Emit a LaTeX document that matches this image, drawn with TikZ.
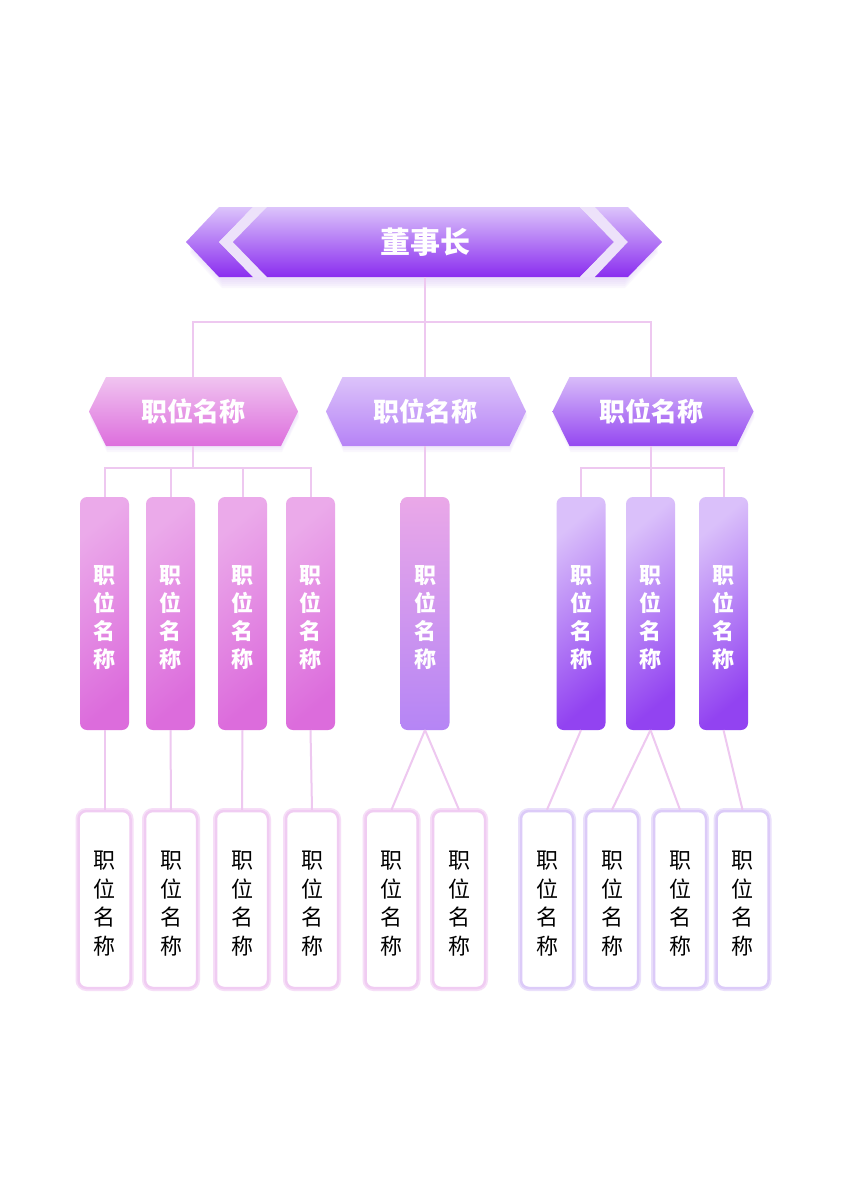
\documentclass[tikz,border=0pt]{standalone}
\usepackage{fontspec}
\newfontfamily\cjk{Noto Sans CJK SC}
\definecolor{connc}{HTML}{EEC8F0}
\definecolor{pkA}{HTML}{F0C4F0}
\definecolor{pkB}{HTML}{DD6EDD}
\definecolor{pvA}{HTML}{EBAAEA}
\definecolor{pvB}{HTML}{DC6CDC}
\definecolor{lvA}{HTML}{DCC3FA}
\definecolor{lvB}{HTML}{B683F6}
\definecolor{mvA}{HTML}{EAA8E8}
\definecolor{mvB}{HTML}{B585F5}
\definecolor{vlA}{HTML}{D8BCF9}
\definecolor{vlB}{HTML}{9447F1}
\definecolor{rvA}{HTML}{DAC0FA}
\definecolor{rvB}{HTML}{9243F1}
\definecolor{bnA}{HTML}{DCC4FB}
\definecolor{bnB}{HTML}{8A2DEF}
\definecolor{gapc}{HTML}{EDE2FA}
\definecolor{glowc}{HTML}{D9C4F6}
\definecolor{pkBord}{HTML}{F0CCF2}
\definecolor{pkGlow}{HTML}{F6DEF7}
\definecolor{lvBord}{HTML}{DCCBF8}
\definecolor{lvGlow}{HTML}{EAE0FB}
\newcommand\myhex[6]{\path[#6] ({#1-#3},{#2}) -- ({#1-#3+#5},{#2-#4}) -- ({#1+#3-#5},{#2-#4}) -- ({#1+#3},{#2}) -- ({#1+#3-#5},{#2+#4}) -- ({#1-#3+#5},{#2+#4}) -- cycle;}
\newcommand\vtxt{\rule{0pt}{1.16em}职\\位\\名\\称}
\begin{document}
\begin{tikzpicture}[x=1pt,y=-1pt,
  conn/.style={draw=connc,line width=2pt},
  anch/.style={inner sep=0pt,outer sep=0pt,rectangle,text=white,align=center},
  hexlabel/.style={anch,minimum width=200pt,minimum height=69pt,font=\cjk\bfseries\fontsize{26}{30}\selectfont},
  vbox/.style={rectangle,rounded corners=7pt,minimum width=49pt,minimum height=233pt,inner sep=0pt,outer sep=0pt,text=white,align=center,font=\cjk\bfseries\fontsize{22}{28}\selectfont},
  pinkv/.style={vbox,top color=pvA,bottom color=pvB,shading angle=40},
  midv/.style={vbox,top color=mvA,bottom color=mvB},
  violv/.style={vbox,top color=rvA,bottom color=rvB,shading angle=40},
  bbox/.style={rectangle,rounded corners=8pt,minimum width=52pt,minimum height=177pt,inner sep=0pt,fill=white,line width=2.5pt,align=center,font=\cjk\fontsize{22}{28.7}\selectfont},
  pinkb/.style={bbox,draw=pkBord,preaction={draw=pkGlow,line width=6pt}},
  lavb/.style={bbox,draw=lvBord,preaction={draw=lvGlow,line width=6pt}},
  glow/.style={fill=glowc,opacity=0.12}
]
\useasboundingbox (0,0) rectangle (848,1200);
\fill[white] (0,0) rectangle (848,1200);

% ---- banner glow ----
\foreach \d in {3,5,7,9,11}{
  \path[glow] (190,{242+\d}) -- (222,{209+\d}) -- (625,{209+\d}) -- (658,{242+\d}) -- (625,{277+\d}) -- (222,{277+\d}) -- cycle;
}
% ---- banner ----
\shade[top color=bnA,bottom color=bnB] (219,207)--(253,207)--(219,242)--(253,277)--(219,277)--(186,242)--cycle;
\fill[gapc] (253,207)--(267,207)--(233,242)--(267,277)--(253,277)--(219,242)--cycle;
\shade[top color=bnA,bottom color=bnB] (233,242)--(267,207)--(580,207)--(614,242)--(580,277)--(267,277)--cycle;
\fill[gapc] (580,207)--(595,207)--(628,242)--(595,277)--(580,277)--(614,242)--cycle;
\shade[top color=bnA,bottom color=bnB] (595,207)--(628,207)--(662,242)--(628,277)--(595,277)--(628,242)--cycle;
\node[anch,minimum width=381pt,minimum height=70pt,font=\cjk\bfseries\fontsize{30}{34}\selectfont] (ceo) at (425,242) {董事长};

% ---- second level hexagons ----
\foreach \d in {2,4,6}{
  \myhex{194.5}{411.5+\d}{104.5}{34.5}{17}{glow}
  \myhex{427}{411.5+\d}{100}{34.5}{16.5}{glow}
  \myhex{654}{411.5+\d}{100.5}{34.5}{17}{glow}
}
\myhex{193.5}{411.5}{104.5}{34.5}{17}{top color=pkA,bottom color=pkB}
\myhex{426}{411.5}{100}{34.5}{16.5}{top color=lvA,bottom color=lvB}
\myhex{653}{411.5}{100.5}{34.5}{17}{top color=vlA,bottom color=vlB}
\node[hexlabel] (h1) at (193,411.5) {职位名称};
\node[hexlabel] (h2) at (425,411.5) {职位名称};
\node[hexlabel] (h3) at (651,411.5) {职位名称};

% ---- third level boxes ----
\node[pinkv] (v1) at (104.5,613.5) {\vtxt};
\node[pinkv] (v2) at (170.5,613.5) {\vtxt};
\node[pinkv] (v3) at (242.5,613.5) {\vtxt};
\node[pinkv] (v4) at (310.5,613.5) {\vtxt};
\node[midv] (v5) at (425,613.5) {\vtxt};
\node[violv] (v6) at (581,613.5) {\vtxt};
\node[violv] (v7) at (650.5,613.5) {\vtxt};
\node[violv] (v8) at (723.5,613.5) {\vtxt};

% ---- bottom boxes ----
\node[pinkb] (b1) at (104.5,899.5) {\vtxt};
\node[pinkb] (b2) at (171,899.5) {\vtxt};
\node[pinkb] (b3) at (242,899.5) {\vtxt};
\node[pinkb] (b4) at (312,899.5) {\vtxt};
\node[pinkb] (b5) at (391.5,899.5) {\vtxt};
\node[pinkb] (b6) at (459,899.5) {\vtxt};
\node[lavb] (b7) at (547,899.5) {\vtxt};
\node[lavb] (b8) at (612,899.5) {\vtxt};
\node[lavb] (b9) at (680,899.5) {\vtxt};
\node[lavb] (b10) at (742.5,899.5) {\vtxt};

% ---- connectors ----
\coordinate (j0) at (425,322);
\coordinate (j1) at (193,468);
\coordinate (j3) at (651,468);
\draw[conn] (ceo.south) -- (h2.north);
\draw[conn] (h1.north) |- (j0) -| (h3.north);
\draw[conn] (h1.south) -- (j1);
\draw[conn] (v1.north) |- (j1) -| (v4.north);
\draw[conn] (v2.north) -- (v2.north |- j1);
\draw[conn] (v3.north) -- (v3.north |- j1);
\draw[conn] (h2.south) -- (v5.north);
\draw[conn] (h3.south) -- (j3);
\draw[conn] (v6.north) |- (j3) -| (v8.north);
\draw[conn] (v7.north) -- (v7.north |- j3);
\draw[conn] (v1.south) -- (b1.north);
\draw[conn] (v2.south) -- (b2.north);
\draw[conn] (v3.south) -- (b3.north);
\draw[conn] (v4.south) -- (b4.north);
\draw[conn] (v5.south) -- (b5.north);
\draw[conn] (v5.south) -- (b6.north);
\draw[conn] (v6.south) -- (b7.north);
\draw[conn] (v7.south) -- (b8.north);
\draw[conn] (v7.south) -- (b9.north);
\draw[conn] (v8.south) -- (b10.north);
\end{tikzpicture}
\end{document}
